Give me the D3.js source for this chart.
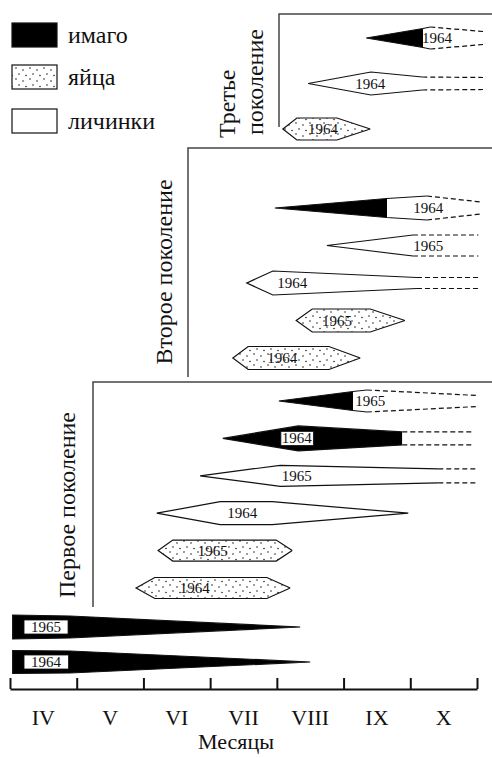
<!DOCTYPE html>
<html>
<head>
<meta charset="utf-8">
<script src="https://cdn.jsdelivr.net/npm/d3@7"></script>
<style>
body { margin: 0; background: #fff; }
text { font-family: "Liberation Serif", "DejaVu Serif", serif; fill: #111; }
</style>
</head>
<body>
<div id="canvas"></div>
<script>
"use strict"

/* Data: months, stages, rows per generation (profile = [month, relative width]) */
const months = ["IV", "V", "VI", "VII", "VIII", "IX", "X"];
const stages = ["имаго", "яйца", "личинки"];
const generations = ["Первое поколение", "Второе поколение", "Третье поколение"];

// overwintered adults
const overwinterRows = [
    {year: "1965", stage: "имаго", profile: [[4.04, 0.96], [4.90, 0.88], [8.35, 0]], imagoTo: 8.35, labelAt: 4.54},
    {year: "1964", stage: "имаго", profile: [[4.04, 0.92], [4.90, 0.88], [8.50, 0]], imagoTo: 8.50, labelAt: 4.54}
];

const gen1Rows = [
    {year: "1965", stage: "имаго", profile: [[8.03, 0], [9.14, 0.76], [9.35, 0.88]], imagoTo: 9.14, tail: [11.02, 0.44], labelAt: 9.40},
    {year: "1964", stage: "имаго", profile: [[7.19, 0], [8.32, 1.0], [9.88, 0.52]], imagoTo: 9.88, tail: [10.94, 0.52], labelAt: 8.30},
    {year: "1965", stage: "личинки", profile: [[6.85, 0], [8.05, 0.84], [10.42, 0.56]], tail: [11.02, 0.56], labelAt: 8.30},
    {year: "1964", stage: "личинки", profile: [[6.20, 0], [7.15, 0.92], [7.93, 0.92], [9.97, 0]], labelAt: 7.48},
    {year: "1965", stage: "яйца", profile: [[6.22, 0], [6.44, 0.84], [7.99, 0.84], [8.23, 0]], labelAt: 7.04},
    {year: "1964", stage: "яйца", profile: [[5.89, 0], [6.17, 0.84], [7.85, 0.84], [8.20, 0]], labelAt: 6.77}
];

const gen2Rows = [
    {year: "1964", stage: "имаго", profile: [[7.97, 0], [9.65, 0.76], [10.25, 0.96]], imagoTo: 9.65, tail: [11.06, 0.48], labelAt: 10.27},
    {year: "1965", stage: "личинки", profile: [[8.75, 0], [10.04, 0.84]], tail: [11.02, 0.84], labelAt: 10.27},
    {year: "1964", stage: "личинки", profile: [[7.55, 0], [7.94, 0.96], [10.10, 0.44]], tail: [11.05, 0.44], labelAt: 8.23},
    {year: "1965", stage: "яйца", profile: [[8.29, 0], [8.53, 0.92], [9.40, 0.92], [9.92, 0]], labelAt: 8.90},
    {year: "1964", stage: "яйца", profile: [[7.34, 0], [7.57, 0.92], [8.78, 0.92], [9.25, 0]], labelAt: 8.08}
];

const gen3Rows = [
    {year: "1964", stage: "имаго", profile: [[9.34, 0], [10.19, 0.76], [10.30, 0.88]], imagoTo: 10.19, tail: [11.09, 0.52], labelAt: 10.40},
    {year: "1964", stage: "личинки", profile: [[8.47, 0], [9.41, 0.92], [10.18, 0.52]], tail: [11.09, 0.48], labelAt: 9.40},
    {year: "1964", stage: "яйца", profile: [[8.09, 0], [8.30, 0.88], [8.90, 0.88], [9.40, 0]], labelAt: 8.69}
];

/* Drawing configuration */
let svgWidth = 492;
let svgHeight = 758;
let axisY = 689;

let stageFill = {"имаго": "#000", "яйца": "url(#dots)", "личинки": "#fff"};

let svg = d3.select("#canvas")
    .append("svg")
    .attr("width", svgWidth)
    .attr("height", svgHeight);

// dotted fill for eggs
let defs = svg.append("defs");
let pat = defs.append("pattern")
    .attr("id", "dots")
    .attr("patternUnits", "userSpaceOnUse")
    .attr("width", 14)
    .attr("height", 11);
pat.append("rect").attr("width", 14).attr("height", 11).attr("fill", "#fff");
[[2, 2], [9, 4], [5, 8], [12, 9.5]].forEach(function(p) {
    pat.append("circle").attr("cx", p[0]).attr("cy", p[1]).attr("r", 0.8).attr("fill", "#222");
});

let xScale = d3.scaleLinear()
    .domain([4, 11])
    .range([10, 477]);

let wScale = d3.scaleLinear()
    .domain([0, 1])
    .range([0, 12.5]);

let clipCount = 0;

function drawRow(row, cy) {
    let g = svg.append("g");
    let top = row.profile.map(function(p) { return [xScale(p[0]), cy - wScale(p[1])]; });
    let bottom = row.profile.map(function(p) { return [xScale(p[0]), cy + wScale(p[1])]; }).reverse();
    let poly = top.concat(bottom);

    let baseFill = row.stage === "яйца" ? stageFill["яйца"] : "#fff";
    g.append("polygon")
        .attr("points", poly.map(function(p) { return p.join(","); }).join(" "))
        .attr("fill", baseFill)
        .attr("stroke", "none");

    if (row.imagoTo !== undefined) {
        clipCount++;
        let id = "clip" + clipCount;
        defs.append("clipPath").attr("id", id)
            .append("rect")
            .attr("x", 0).attr("y", cy - 30)
            .attr("width", xScale(row.imagoTo)).attr("height", 60);
        g.append("polygon")
            .attr("points", poly.map(function(p) { return p.join(","); }).join(" "))
            .attr("fill", stageFill["имаго"])
            .attr("clip-path", "url(#" + id + ")");
    }

    // outline, open on the right where a dashed tail continues
    let outline = bottom.concat(top);
    g.append("path")
        .attr("d", d3.line()(outline))
        .attr("fill", "none")
        .attr("stroke", "#111")
        .attr("stroke-width", 1.2);

    if (row.tail) {
        let last = row.profile[row.profile.length - 1];
        [-1, 1].forEach(function(s) {
            g.append("line")
                .attr("x1", xScale(last[0]))
                .attr("y1", cy + s * wScale(last[1]))
                .attr("x2", xScale(row.tail[0]))
                .attr("y2", cy + s * wScale(row.tail[1]))
                .attr("stroke", "#111")
                .attr("stroke-width", 1.2)
                .attr("stroke-dasharray", "5,3");
        });
    }

    let onBlack = row.imagoTo !== undefined && row.labelAt < row.imagoTo;
    let label = g.append("text")
        .attr("x", xScale(row.labelAt))
        .attr("y", cy)
        .attr("text-anchor", "middle")
        .attr("dominant-baseline", "central")
        .attr("font-size", 15)
        .text(row.year);
    if (onBlack) {
        let bb = label.node().getBBox();
        let pad = row.profile[0][1] > 0 ? 7 : 1;
        g.insert("rect", "text")
            .attr("x", bb.x - pad)
            .attr("y", cy - 7)
            .attr("width", bb.width + 2 * pad)
            .attr("height", 14)
            .attr("fill", "#fff")
            .attr("stroke", "#111")
            .attr("stroke-width", 0.8);
    }
}

function drawPanel(rows, y0, y1) {
    let yScale = d3.scalePoint()
        .domain(d3.range(rows.length))
        .range([y0, y1]);
    rows.forEach(function(r, i) { drawRow(r, yScale(i)); });
}

/* Panel frames */
let frames = [
    {x: 93, top: 382, bottom: 607},
    {x: 188, top: 148, bottom: 377},
    {x: 279, top: 14, bottom: 127}
];
frames.forEach(function(f) {
    svg.append("path")
        .attr("d", "M" + f.x + "," + f.bottom + "V" + f.top + "H" + svgWidth)
        .attr("fill", "none")
        .attr("stroke", "#444")
        .attr("stroke-width", 1.5);
});

drawPanel(gen3Rows, 38, 129);
drawPanel(gen2Rows, 208, 358);
drawPanel(gen1Rows, 401, 588);
drawPanel(overwinterRows, 627, 662);

/* Generation labels */
svg.append("text")
    .attr("transform", "translate(67,505) rotate(-90)")
    .attr("text-anchor", "middle")
    .attr("dominant-baseline", "central")
    .attr("font-size", 24)
    .text(generations[0]);

svg.append("text")
    .attr("transform", "translate(164,272) rotate(-90)")
    .attr("text-anchor", "middle")
    .attr("dominant-baseline", "central")
    .attr("font-size", 24)
    .text(generations[1]);

let g3words = generations[2].split(" ");
svg.append("text")
    .attr("transform", "translate(227,138) rotate(-90)")
    .attr("text-anchor", "start")
    .attr("dominant-baseline", "central")
    .attr("font-size", 24)
    .text(g3words[0]);
svg.append("text")
    .attr("transform", "translate(255,135) rotate(-90)")
    .attr("text-anchor", "start")
    .attr("dominant-baseline", "central")
    .attr("font-size", 24)
    .text(g3words[1]);

/* Axis */
let axis = d3.axisTop(xScale)
    .tickValues(d3.range(4, 12))
    .tickSize(11)
    .tickSizeOuter(0)
    .tickFormat("");
let axisG = svg.append("g")
    .attr("transform", "translate(0," + axisY + ")")
    .call(axis);
axisG.selectAll("path, line")
    .attr("stroke", "#111")
    .attr("stroke-width", 2);

months.forEach(function(m, i) {
    svg.append("text")
        .attr("x", xScale(4.5 + i))
        .attr("y", 725)
        .attr("text-anchor", "middle")
        .attr("font-size", 22)
        .text(m);
});

svg.append("text")
    .attr("x", 236)
    .attr("y", 749)
    .attr("text-anchor", "middle")
    .attr("font-size", 22)
    .text("Месяцы");

/* Legend */
let legendY = [35, 77, 121];
stages.forEach(function(s, i) {
    svg.append("rect")
        .attr("x", 12)
        .attr("y", legendY[i] - 12)
        .attr("width", 45)
        .attr("height", 24)
        .attr("fill", stageFill[s])
        .attr("stroke", "#111")
        .attr("stroke-width", 1.2);
    svg.append("text")
        .attr("x", 68)
        .attr("y", legendY[i])
        .attr("dominant-baseline", "central")
        .attr("font-size", 24)
        .text(s);
});
</script>
</body>
</html>
